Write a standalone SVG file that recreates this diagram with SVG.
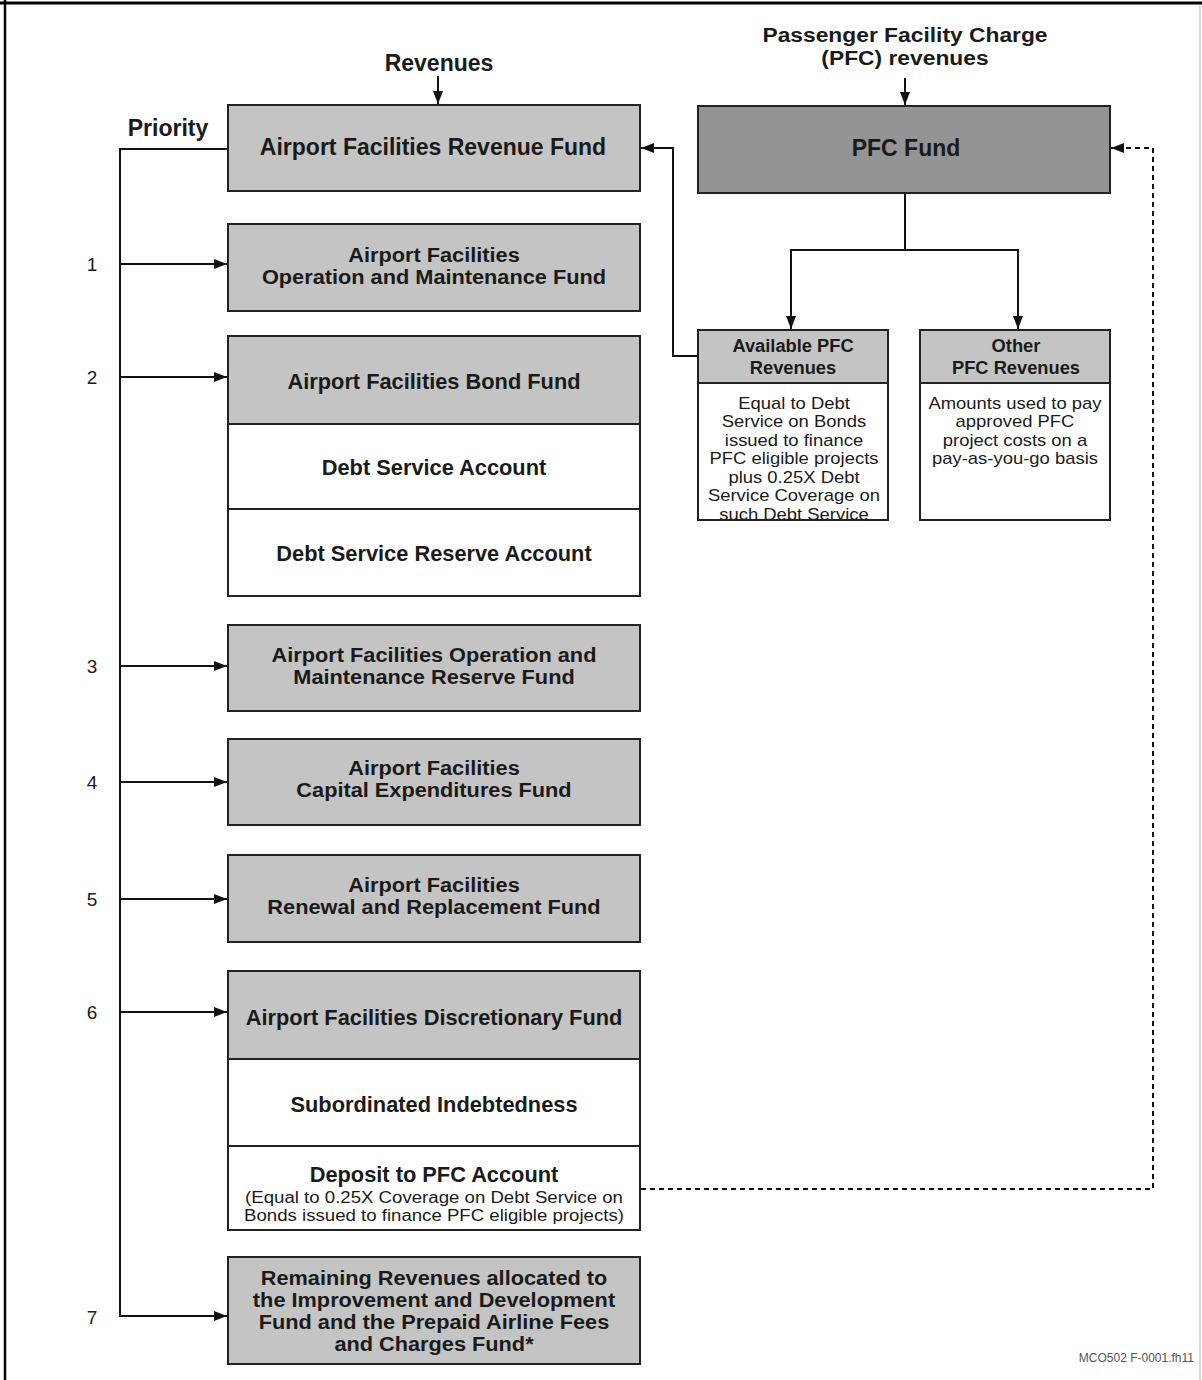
<svg xmlns="http://www.w3.org/2000/svg" width="1202" height="1380" viewBox="0 0 1202 1380">
<defs>
<marker id="ah" markerWidth="13" markerHeight="10" refX="13" refY="5" orient="auto" markerUnits="userSpaceOnUse">
<path d="M0,0 L13,5 L0,10 Z" fill="#111"/>
</marker>
<style>
text{font-family:"Liberation Sans",Arial,Helvetica,sans-serif;fill:#1a1a1a;text-anchor:middle}
.t{font-size:21.8px;font-weight:bold}
.m{font-size:19.5px;font-weight:bold}
.T{font-size:23px;font-weight:bold}
.P{font-size:20.5px;font-weight:bold}
.s{font-size:18.3px;font-weight:bold}
.b{font-size:16px}
.n{font-size:19px;text-anchor:middle}
.box{stroke:#222;stroke-width:2}
.lg{fill:#c4c4c4}
.dg{fill:#949494}
.w{fill:#fff}
.c{fill:none;stroke:#111;stroke-width:2}
.d{fill:none;stroke:#111;stroke-width:2;stroke-dasharray:5,4}
</style>
<clipPath id="clipA"><rect x="698" y="383" width="190" height="136"/></clipPath>
</defs>
<rect width="1202" height="1380" fill="#fff"/>
<line x1="0" y1="3" x2="1202" y2="3" stroke="#000" stroke-width="3"/>
<line x1="5" y1="0" x2="5" y2="1380" stroke="#000" stroke-width="2.5"/>
<line x1="1200" y1="5" x2="1200" y2="1380" stroke="#ccc" stroke-width="1.5"/>

<text class="T" x="439" y="71">Revenues</text>
<text class="T" x="168" y="136">Priority</text>
<g transform="matrix(1.113 0 0 1 -102.27 0)">
<text class="P" x="905" y="42">Passenger Facility Charge</text>
<text class="P" x="905" y="65">(PFC) revenues</text>
</g>

<g id="revenue-fund">
<rect class="box lg" x="228" y="105" width="412" height="86"/>
<text class="T" x="433" y="155">Airport Facilities Revenue Fund</text>
</g>
<g id="om-fund">
<rect class="box lg" x="228" y="224" width="412" height="87"/>
<g transform="matrix(1.115 0 0 1 -49.91 0)">
<text class="m" x="434" y="262">Airport Facilities</text>
<text class="m" x="434" y="284">Operation and Maintenance Fund</text>
</g>
</g>
<g id="bond-fund">
<rect class="box lg" x="228" y="336" width="412" height="88"/>
<text class="t" x="434" y="389">Airport Facilities Bond Fund</text>
<rect class="box w" x="228" y="424" width="412" height="85"/>
<text class="t" x="434" y="475">Debt Service Account</text>
<rect class="box w" x="228" y="509" width="412" height="87"/>
<text class="t" x="434" y="561">Debt Service Reserve Account</text>
</g>
<g id="om-reserve-fund">
<rect class="box lg" x="228" y="625" width="412" height="86"/>
<g transform="matrix(1.115 0 0 1 -49.91 0)">
<text class="m" x="434" y="662">Airport Facilities Operation and</text>
<text class="m" x="434" y="684">Maintenance Reserve Fund</text>
</g>
</g>
<g id="capex-fund">
<rect class="box lg" x="228" y="739" width="412" height="86"/>
<g transform="matrix(1.115 0 0 1 -49.91 0)">
<text class="m" x="434" y="775">Airport Facilities</text>
<text class="m" x="434" y="797">Capital Expenditures Fund</text>
</g>
</g>
<g id="rr-fund">
<rect class="box lg" x="228" y="855" width="412" height="87"/>
<g transform="matrix(1.115 0 0 1 -49.91 0)">
<text class="m" x="434" y="892">Airport Facilities</text>
<text class="m" x="434" y="914">Renewal and Replacement Fund</text>
</g>
</g>
<g id="discretionary-fund">
<rect class="box lg" x="228" y="971" width="412" height="88"/>
<text class="t" x="434" y="1025">Airport Facilities Discretionary Fund</text>
<rect class="box w" x="228" y="1059" width="412" height="87"/>
<text class="t" x="434" y="1112">Subordinated Indebtedness</text>
<rect class="box w" x="228" y="1146" width="412" height="84"/>
<text class="t" x="434" y="1182">Deposit to PFC Account</text>
<g transform="matrix(1.164 0 0 1 -71.18 0)">
<text class="b" x="434" y="1203">(Equal to 0.25X Coverage on Debt Service on</text>
<text class="b" x="434" y="1221">Bonds issued to finance PFC eligible projects)</text>
</g>
</g>
<g id="remaining">
<rect class="box lg" x="228" y="1257" width="412" height="107"/>
<g transform="matrix(1.115 0 0 1 -49.91 0)">
<text class="m" x="434" y="1285">Remaining Revenues allocated to</text>
<text class="m" x="434" y="1307">the Improvement and Development</text>
<text class="m" x="434" y="1329">Fund and the Prepaid Airline Fees</text>
<text class="m" x="434" y="1351">and Charges Fund*</text>
</g>
</g>

<g id="pfc-fund">
<rect class="box dg" x="698" y="106" width="412" height="87"/>
<text class="T" x="906" y="156">PFC Fund</text>
</g>
<g id="available-pfc">
<rect class="box lg" x="698" y="330" width="190" height="53"/>
<text class="s" x="793" y="352">Available PFC</text>
<text class="s" x="793" y="374">Revenues</text>
<rect class="box w" x="698" y="383" width="190" height="137"/>
<g clip-path="url(#clipA)">
<g transform="matrix(1.153 0 0 1 -121.48 0)">
<text class="b" x="794" y="409">Equal to Debt</text>
<text class="b" x="794" y="427.5">Service on Bonds</text>
<text class="b" x="794" y="446">issued to finance</text>
<text class="b" x="794" y="464.5">PFC eligible projects</text>
<text class="b" x="794" y="483">plus 0.25X Debt</text>
<text class="b" x="794" y="501.5">Service Coverage on</text>
<text class="b" x="794" y="520">such Debt Service</text>
</g>
</g>
</g>
<g id="other-pfc">
<rect class="box lg" x="920" y="330" width="190" height="53"/>
<text class="s" x="1016" y="352">Other</text>
<text class="s" x="1016" y="374">PFC Revenues</text>
<rect class="box w" x="920" y="383" width="190" height="137"/>
<g transform="matrix(1.153 0 0 1 -155.3 0)">
<text class="b" x="1015" y="409">Amounts used to pay</text>
<text class="b" x="1015" y="427.5">approved PFC</text>
<text class="b" x="1015" y="446">project costs on a</text>
<text class="b" x="1015" y="464.5">pay-as-you-go basis</text>
</g>
</g>

<g id="priority-labels">
<text class="n" x="92" y="271">1</text>
<text class="n" x="92" y="384">2</text>
<text class="n" x="92" y="673">3</text>
<text class="n" x="92" y="789">4</text>
<text class="n" x="92" y="906">5</text>
<text class="n" x="92" y="1019">6</text>
<text class="n" x="92" y="1324">7</text>
</g>

<g id="connectors">
<line class="c" x1="438" y1="76" x2="438" y2="104" marker-end="url(#ah)"/>
<line class="c" x1="905" y1="78" x2="905" y2="105" marker-end="url(#ah)"/>
<polyline class="c" points="228,149 120,149 120,1316"/>
<line class="c" x1="120" y1="264" x2="227" y2="264" marker-end="url(#ah)"/>
<line class="c" x1="120" y1="377" x2="227" y2="377" marker-end="url(#ah)"/>
<line class="c" x1="120" y1="666" x2="227" y2="666" marker-end="url(#ah)"/>
<line class="c" x1="120" y1="782" x2="227" y2="782" marker-end="url(#ah)"/>
<line class="c" x1="120" y1="899" x2="227" y2="899" marker-end="url(#ah)"/>
<line class="c" x1="120" y1="1012" x2="227" y2="1012" marker-end="url(#ah)"/>
<line class="c" x1="119" y1="1316" x2="227" y2="1316" marker-end="url(#ah)"/>
<polyline class="c" points="905,193 905,250 791,250 791,329" marker-end="url(#ah)"/>
<polyline class="c" points="905,250 1018,250 1018,329" marker-end="url(#ah)"/>
<polyline class="c" points="698,356 673,356 673,148 641,148" marker-end="url(#ah)"/>
<polyline class="d" points="641,1189 1153,1189 1153,148 1111,148" marker-end="url(#ah)"/>
</g>

<text x="1194" y="1362" style="font-size:12px;fill:#555;text-anchor:end">MCO502 F-0001.fh11</text>
</svg>
